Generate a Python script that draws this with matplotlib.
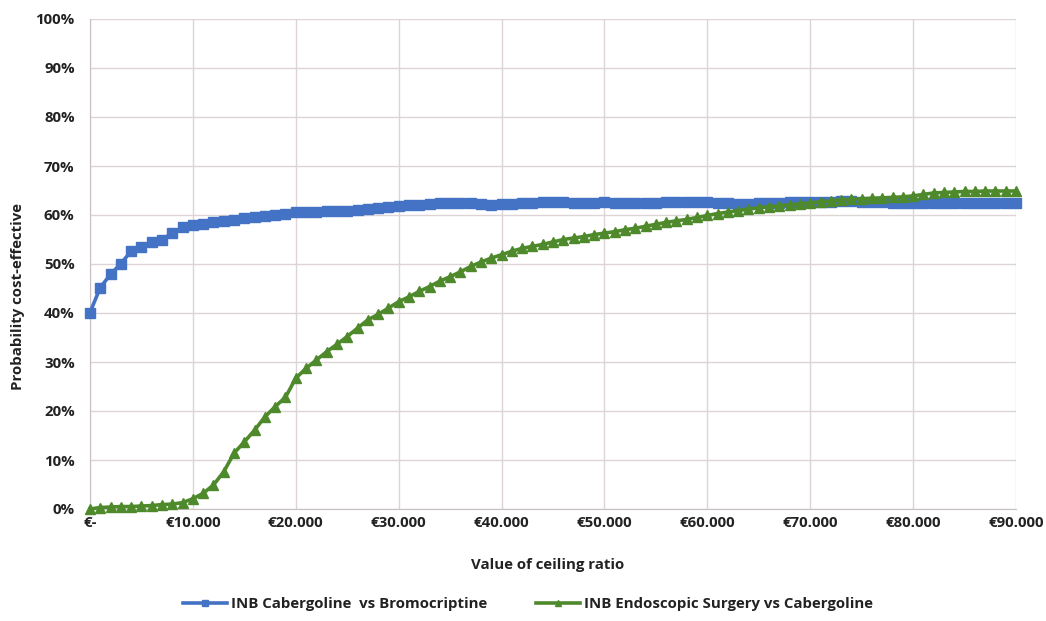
import matplotlib
matplotlib.use("Agg")
import matplotlib.pyplot as plt
from matplotlib.ticker import FuncFormatter, MultipleLocator

plt.rcParams['font.family'] = ['Open Sans', 'DejaVu Sans']

# Willingness-to-pay thresholds (EUR), one step per 1.000
ceiling = list(range(0, 91000, 1000))

# Probability cost-effective (%)
cabergoline_vs_bromocriptine = [
    40.1, 45.2, 47.9, 50.1, 52.6, 53.4, 54.4, 55.0, 56.3, 57.5,
    58.0, 58.2, 58.5, 58.8, 59.0, 59.3, 59.5, 59.7, 60.0, 60.3,
    60.6, 60.7, 60.7, 60.8, 60.8, 60.9, 61.0, 61.2, 61.4, 61.6,
    61.8, 62.0, 62.1, 62.3, 62.4, 62.5, 62.5, 62.4, 62.2, 62.1,
    62.2, 62.3, 62.4, 62.5, 62.6, 62.6, 62.6, 62.5, 62.5, 62.5,
    62.6, 62.5, 62.4, 62.4, 62.5, 62.5, 62.6, 62.6, 62.6, 62.7,
    62.6, 62.5, 62.4, 62.3, 62.3, 62.4, 62.5, 62.5, 62.6, 62.6,
    62.7, 62.7, 62.7, 62.8, 62.8, 62.7, 62.6, 62.6, 62.5, 62.5,
    62.5, 62.4, 62.4, 62.4, 62.4, 62.5, 62.5, 62.5, 62.4, 62.4,
    62.4,
]
surgery_vs_cabergoline = [
    0.0, 0.3, 0.4, 0.5, 0.5, 0.6, 0.7, 0.9, 1.0, 1.3,
    2.1, 3.2, 4.9, 7.6, 11.4, 13.7, 16.1, 18.8, 20.9, 22.8,
    26.7, 28.7, 30.4, 32.1, 33.6, 35.2, 36.9, 38.6, 39.7, 41.0,
    42.3, 43.3, 44.4, 45.4, 46.5, 47.4, 48.4, 49.5, 50.4, 51.2,
    51.9, 52.6, 53.2, 53.6, 54.0, 54.5, 55.0, 55.3, 55.6, 56.0,
    56.3, 56.6, 57.0, 57.3, 57.7, 58.1, 58.5, 58.8, 59.1, 59.5,
    59.9, 60.3, 60.6, 60.9, 61.2, 61.5, 61.7, 61.9, 62.1, 62.3,
    62.5, 62.7, 62.9, 63.1, 63.2, 63.3, 63.4, 63.5, 63.6, 63.7,
    63.9, 64.2, 64.5, 64.6, 64.7, 64.8, 64.8, 64.9, 64.9, 64.9,
    64.9,
]

series_labels = ["INB Cabergoline  vs Bromocriptine",
                 "INB Endoscopic Surgery vs Cabergoline"]
x_tick_values = list(range(0, 91000, 10000))
x_tick_labels = ["€-", "€10.000", "€20.000", "€30.000", "€40.000",
                 "€50.000", "€60.000", "€70.000", "€80.000", "€90.000"]

W, H = 1046, 621
fig = plt.figure(figsize=(W / 100, H / 100), dpi=100)
ax = fig.add_axes([90 / W, 1 - 509 / H, (1016 - 90) / W, (509 - 19) / H])

blue = "#4472C4"
green = "#4E8A2C"
text_color = "#222222"
fs = 10.8

ax.plot(ceiling, cabergoline_vs_bromocriptine, color=blue, lw=2.6,
        marker="s", markersize=7, label=series_labels[0], clip_on=False, zorder=3)
ax.plot(ceiling, surgery_vs_cabergoline, color=green, lw=2.6,
        marker="^", markersize=7, label=series_labels[1], clip_on=False, zorder=4)

ax.set_xlim(0, 90000)
ax.set_ylim(0, 100)
ax.yaxis.set_major_locator(MultipleLocator(10))
ax.yaxis.set_major_formatter(FuncFormatter(lambda v, p: f"{v:.0f}%"))
ax.set_xticks(x_tick_values)
ax.set_xticklabels(x_tick_labels)

grid_color = "#ddd5d5"
ax.grid(True, color=grid_color, lw=1.0, zorder=0)
ax.set_axisbelow(True)
for side in ("top", "right"):
    ax.spines[side].set_visible(False)
ax.spines["left"].set_color("#c8c0c0")
ax.spines["bottom"].set_color("#c8c0c0")

ax.tick_params(axis="y", length=0, pad=11, labelsize=fs, labelcolor=text_color)
ax.tick_params(axis="x", length=0, pad=5, labelsize=fs, labelcolor=text_color)
for lbl in ax.get_xticklabels() + ax.get_yticklabels():
    lbl.set_fontweight("bold")

fig.text(548 / W, 1 - 565 / H, "Value of ceiling ratio", ha="center", va="center",
         fontsize=fs, fontweight="bold", color=text_color)
fig.text(18 / W, 1 - 296 / H, "Probability cost-effective", ha="center", va="center",
         rotation=90, fontsize=fs, fontweight="bold", color=text_color)

leg = fig.legend(loc="center", bbox_to_anchor=(528 / W, 1 - 604 / H), ncol=2,
                 frameon=False, handlelength=2.9, handletextpad=0.25,
                 columnspacing=3.3, markerscale=0.7,
                 prop={"weight": "bold", "size": fs})
for t in leg.get_texts():
    t.set_color(text_color)

fig.savefig("out.png", dpi=100)
